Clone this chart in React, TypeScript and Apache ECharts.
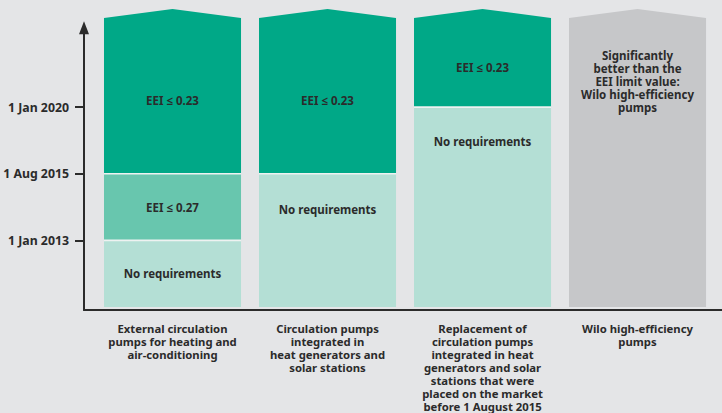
import React, { useEffect, useRef } from "react";
import * as echarts from "echarts";

// Column categories (x positions 0..3)
const categories = [
  "External circulation\npumps for heating and\nair-conditioning",
  "Circulation pumps\nintegrated in\nheat generators and\nsolar stations",
  "Replacement of\ncirculation pumps\nintegrated in heat\ngenerators and solar\nstations that were\nplaced on the market\nbefore 1 August 2015",
  "Wilo high-efficiency\npumps",
];

// Y axis: schematic time levels
const tickValues = [1, 2, 3];
const tickLabels = ["1 Jan 2013", "1 Aug 2015", "1 Jan 2020"];
const TOP = 4.337;

// Stacked segments
const segColumn = [0, 0, 0, 1, 1, 2, 2, 3];
const segFrom = [0, 1, 2, 0, 2, 0, 3, 0];
const segTo = [1, 2, TOP, 2, TOP, 3, TOP, TOP];
const segKind = ["none", "eei27", "eei23", "none", "eei23", "none", "eei23", "wilo"];
const segText = [
  "No requirements",
  "EEI ≤ 0.27",
  "EEI ≤ 0.23",
  "No requirements",
  "EEI ≤ 0.23",
  "No requirements",
  "EEI ≤ 0.23",
  "Significantly\nbetter than the\nEEI limit value:\nWilo high-efficiency\npumps",
];
const segLabelAt = [0.5, 1.5, 3.1, 1.47, 3.1, 2.48, 3.6, 3.39];

const kindColor: Record<string, string> = {
  none: "#b4dfd5",
  eei27: "#68c6ae",
  eei23: "#00a887",
  wilo: "#c6c7c9",
};

const FONT = "'Noto Sans', 'Open Sans', sans-serif";
const TEXT = "#2b2b2b";

export default function App() {
  const ref = useRef<HTMLDivElement>(null);
  useEffect(() => {
    if (!ref.current) return;
    const chart = echarts.init(ref.current, undefined, { renderer: "svg" });
    const data = segColumn.map((c, i) => [c, segFrom[i], segTo[i], segLabelAt[i]]);
    chart.setOption({
      animation: false,
      backgroundColor: "#e4e5e7",
      grid: { left: 84, right: 0, top: 27.8, bottom: 102.7, containLabel: false },
      xAxis: {
        type: "value",
        min: -0.571,
        max: 3.545,
        splitLine: { show: false },
        axisLine: { show: true, onZero: false, lineStyle: { color: TEXT, width: 2 } },
        axisTick: { show: false },
        axisLabel: {
          customValues: [0, 1, 2, 3],
          formatter: (v: number) => categories[Math.round(v)] ?? "",
          color: TEXT,
          fontFamily: FONT,
          fontWeight: "bold",
          fontSize: 11.3,
          lineHeight: 13,
          margin: 12,
          align: "center",
          verticalAlign: "top",
          hideOverlap: false,
          showMinLabel: true,
          showMaxLabel: true,
        },
      },
      yAxis: {
        type: "value",
        min: -0.045,
        max: 4.19,
        splitLine: { show: false },
        axisLine: {
          show: true,
          onZero: false,
          symbol: ["none", "triangle"],
          symbolSize: [10, 13],
          lineStyle: { color: TEXT, width: 2 },
        },
        axisTick: {
          show: true,
          customValues: tickValues,
          length: 9,
          lineStyle: { color: TEXT, width: 2 },
        },
        axisLabel: {
          customValues: tickValues,
          formatter: (v: number) => tickLabels[tickValues.indexOf(Math.round(v))] ?? "",
          color: TEXT,
          fontFamily: FONT,
          fontWeight: "bold",
          fontSize: 12.3,
          margin: 15,
        },
      },
      series: [
        {
          type: "custom",
          clip: false,
          data,
          renderItem: (params: any, api: any) => {
            const i = params.dataIndex;
            const col = api.value(0);
            const from = api.value(1);
            const to = api.value(2);
            const lab = api.value(3);
            const pB = api.coord([col, from]);
            const pT = api.coord([col, to]);
            const w = api.size([1, 0])[0] * 0.884;
            const xC = pB[0];
            const xL = xC - w / 2;
            const xR = xC + w / 2;
            const yB = pB[1];
            const yT = pT[1];
            const isTop = to >= TOP;
            const color = kindColor[segKind[i]];
            const children: any[] = [];
            const pts = isTop
              ? [[xL, yB], [xR, yB], [xR, yT], [xC, yT - 9], [xL, yT]]
              : [[xL, yB], [xR, yB], [xR, yT], [xL, yT]];
            children.push({ type: "polygon", shape: { points: pts }, style: { fill: color } });
            if (from > 0) {
              children.push({
                type: "line",
                shape: { x1: xL, y1: yB, x2: xR, y2: yB },
                style: { stroke: "#eef2f1", lineWidth: 1.6 },
              });
            }
            const yL = api.coord([col, lab])[1];
            children.push({
              type: "text",
              x: xC,
              y: yL,
              style: {
                text: segText[i],
                fill: TEXT,
                font: `bold 11.5px ${FONT}`,
                lineHeight: 13,
                align: "center",
                verticalAlign: "middle",
              },
            });
            return { type: "group", children };
          },
        },
      ],
    });
    return () => chart.dispose();
  }, []);
  return (
    <div
      ref={ref}
      style={{ position: "fixed", left: 0, top: 0, width: 722, height: 413, background: "#e4e5e7" }}
    />
  );
}
